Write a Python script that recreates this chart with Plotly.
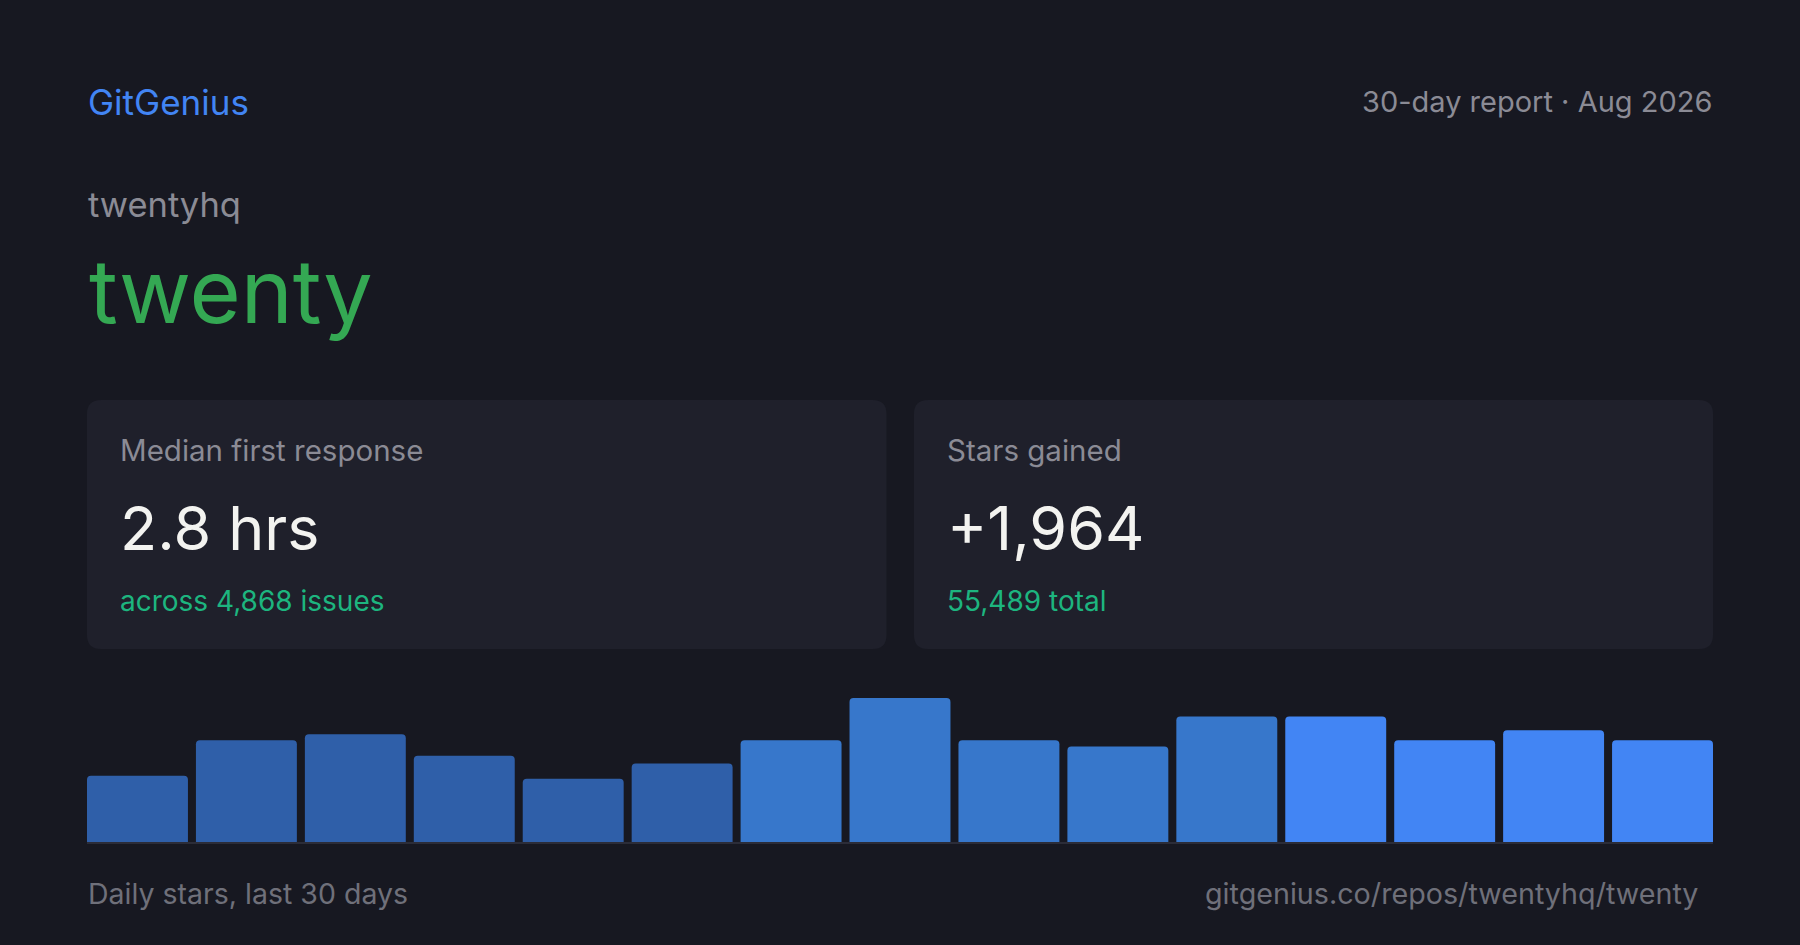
import plotly.graph_objects as go

W, H = 1800, 945

# daily stars, shown as 15 bars (2-day buckets)
buckets = list(range(15))
stars = [86, 132, 140, 112, 82, 102, 132, 187, 132, 124, 163, 163, 132, 145, 132]
tier = [0, 0, 0, 0, 0, 0, 1, 1, 1, 1, 1, 2, 2, 2, 2]

owner = 'twentyhq'
repo = 'twenty'
brand = 'GitGenius'
period_label = '30-day report · Aug 2026'
card_titles = ['Median first response', 'Stars gained']
card_values = ['2.8 hrs', '+1,964']
card_notes = ['across 4,868 issues', '55,489 total']
footer_left = 'Daily stars, last 30 days'
footer_right = 'gitgenius.co/repos/twentyhq/twenty'

BG = '#171821'
CARD = '#1f202b'
GREY = '#8b8b95'
DIM = '#6f707a'
tier_colors = ['#2f5fa9', '#3777cb', '#4285f4']


def px(x):
    return x / W


def py(y):
    # pixel from top -> paper from bottom
    return 1 - y / H


def rounded_rect(x0, y0, x1, y1, r):
    rx, ry = r / W, r / H
    a, b, c, d = px(x0), py(y1), px(x1), py(y0)
    return (f'M {a+rx},{b} L {c-rx},{b} Q {c},{b} {c},{b+ry} '
            f'L {c},{d-ry} Q {c},{d} {c-rx},{d} L {a+rx},{d} '
            f'Q {a},{d} {a},{d-ry} L {a},{b+ry} Q {a},{b} {a+rx},{b} Z')


fig = go.Figure()

fig.add_trace(
    go.Bar(
        x=buckets,
        y=stars,
        marker=dict(color=[tier_colors[t] for t in tier], cornerradius=4, line_width=0),
        hoverinfo='skip',
    )
)

shapes = []
for x0, x1 in [(87, 886.5), (914, 1713)]:
    shapes.append(dict(type='path', path=rounded_rect(x0, 400, x1, 649, 14),
                       xref='paper', yref='paper', fillcolor=CARD, line_width=0, layer='below'))
shapes.append(dict(type='line', xref='paper', yref='paper', x0=px(87), x1=px(1713),
                   y0=py(843), y1=py(843), line=dict(color='#2b2c38', width=2), layer='below'))


def label(text, x, y, size, color, anchor='left'):
    return dict(text=text, x=px(x), y=py(y), xref='paper', yref='paper',
                xanchor=anchor, yanchor='middle', showarrow=False,
                font=dict(size=size, color=color))


annotations = [
    label(brand, 86, 102, 35, '#4285f4'),
    label(period_label, 1714, 101, 29, GREY, 'right'),
    label(owner, 86, 204, 34.5, GREY),
    label(repo, 87, 291, 88, '#34a853'),
    label(footer_left, 86, 893, 28.5, DIM),
    label(footer_right, 1700, 893, 28.7, DIM, 'right'),
]
for i, cx in enumerate([118, 945]):
    annotations += [
        label(card_titles[i], cx, 450, 29.5, GREY),
        label(card_values[i], cx, 528, 61, '#f3f3f0'),
        label(card_notes[i], cx, 601, 28, '#1db57f'),
    ]

fig.update_layout(
    width=W,
    height=H,
    margin=dict(l=0, r=0, t=0, b=0),
    paper_bgcolor=BG,
    plot_bgcolor=BG,
    font=dict(family='Inter, sans-serif'),
    showlegend=False,
    bargap=8 / 109,
    shapes=shapes,
    annotations=annotations,
    xaxis=dict(domain=[px(87), px(1713)], range=[-101 / 218, 14 + 101 / 218],
               visible=False, fixedrange=True),
    yaxis=dict(domain=[py(842), py(698)], range=[0, 187], visible=False, fixedrange=True),
)

fig.write_html(
    'out.html',
    config={'displayModeBar': False},
    post_script="document.body.style.margin='0';document.body.style.background='#171821';",
)
